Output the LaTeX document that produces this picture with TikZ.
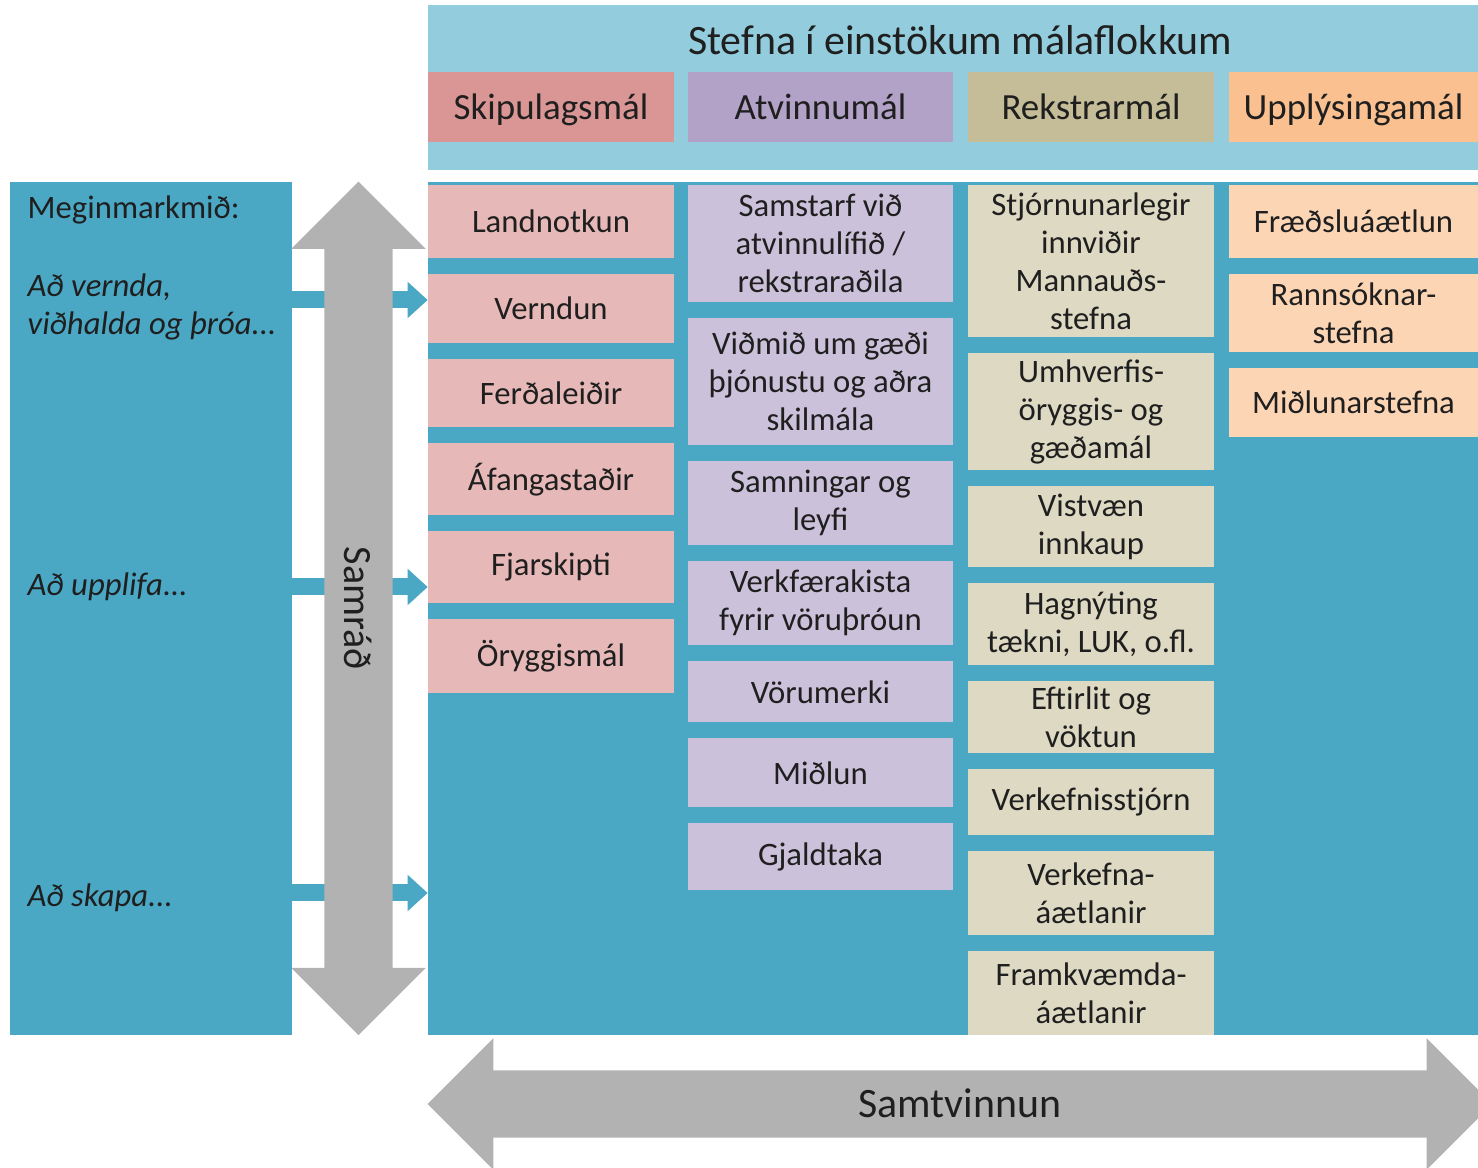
\documentclass[tikz,border=0pt]{standalone}
\usepackage{fontspec}
\setmainfont{Carlito}
\usetikzlibrary{positioning,shapes.arrows,arrows.meta}
\definecolor{mainblue}{HTML}{4AA8C5}
\definecolor{headblue}{HTML}{93CDDD}
\definecolor{pinkhead}{HTML}{DA9694}
\definecolor{pinkcell}{HTML}{E6B9B8}
\definecolor{lilachead}{HTML}{B3A2C7}
\definecolor{lilaccell}{HTML}{CCC1DA}
\definecolor{sandhead}{HTML}{C4BD97}
\definecolor{sandcell}{HTML}{DDD9C3}
\definecolor{peachhead}{HTML}{FAC090}
\definecolor{peachcell}{HTML}{FCD5B5}
\definecolor{arrowgray}{HTML}{B2B2B2}
\tikzset{panel/.style={fill=mainblue, inner sep=0pt, outer sep=0pt},
  headblock/.style={inner sep=0pt, outer sep=0pt, minimum height=0.7cm, text height=0.32cm, text depth=0.075cm, text=black!88, font=\fontsize{10.5}{12}\selectfont},
  block/.style={inner sep=0pt, outer sep=0pt, align=center, text=black!88, font=\fontsize{9.3}{10.8}\selectfont},
  pinkblock/.style={block, fill=pinkcell, minimum width=2.46cm},
  lilacblock/.style={block, fill=lilaccell, minimum width=2.65cm},
  sandblock/.style={block, fill=sandcell, minimum width=2.46cm},
  peachblock/.style={block, fill=peachcell, minimum width=2.49cm},
  goaltext/.style={anchor=west, align=left, inner sep=0pt, text=black!88, font=\fontsize{9.3}{10.8}\selectfont},
  goalarrow/.style={draw=mainblue, line width=0.17cm, -{Triangle[length=0.2cm,width=0.35cm]}},
  twoway/.style={double arrow, fill=arrowgray, inner xsep=0pt, inner ysep=0pt, outer sep=0pt, text=black!88}}

\begin{document}
\begin{tikzpicture}[x=0.01cm, y=-0.01cm, node distance=0.16cm]
    \useasboundingbox (0,0) rectangle (1478,1168);
    \clip (0,0) rectangle (1478,1168);

    % panels
    \node[panel, minimum width=2.82cm, minimum height=8.53cm]  (goals) at (151,608.5) {};
    \node[panel, minimum width=10.5cm, minimum height=8.53cm]  (body) at (953,608.5) {};
    \node[fill=headblue, inner sep=0pt, minimum width=10.5cm, minimum height=1.65cm] (band) at (953,87.5) {};
    \node[text=black!88, font=\fontsize{11.9}{14}\selectfont] (title) at (960,40) {Stefna í einstökum málaflokkum};

    \node[headblock, fill=pinkhead, minimum width=2.46cm]  (h1) at (551,107) {Skipulagsmál};
    \node[headblock, fill=lilachead, minimum width=2.65cm] (h2) at (820.5,107) {Atvinnumál};
    \node[headblock, fill=sandhead, minimum width=2.46cm]  (h3) at (1091,107) {Rekstrarmál};
    \node[headblock, fill=peachhead, minimum width=2.49cm] (h4) at (1353.5,107) {Upplýsingamál};

    % Skipulagsmál
    \node[pinkblock, minimum height=0.73cm, anchor=north] (lk) at (551,185) {Landnotkun};
    \node[pinkblock, minimum height=0.69cm, below=of lk]   (vd) {Verndun};
    \node[pinkblock, minimum height=0.68cm, below=of vd]   (fl) {Ferðaleiðir};
    \node[pinkblock, minimum height=0.72cm, below=of fl]   (af) {Áfangastaðir};
    \node[pinkblock, minimum height=0.72cm, below=of af]   (fj) {Fjarskipti};
    \node[pinkblock, minimum height=0.74cm, below=of fj]   (or) {Öryggismál};

    % Atvinnumál
    \node[lilacblock, minimum height=1.17cm, anchor=north] (sa) at (820.5,185) {Samstarf við\\atvinnulífið /\\rekstraraðila};
    \node[lilacblock, minimum height=1.27cm, below=of sa]  (vg) {Viðmið um gæði\\þjónustu og aðra\\skilmála};
    \node[lilacblock, minimum height=0.84cm, below=of vg]  (sl) {Samningar og\\leyfi};
    \node[lilacblock, minimum height=0.84cm, below=of sl]  (vk) {Verkfærakista\\fyrir vöruþróun};
    \node[lilacblock, minimum height=0.61cm, below=of vk]  (vm) {Vörumerki};
    \node[lilacblock, minimum height=0.69cm, below=of vm]  (ml) {Miðlun};
    \node[lilacblock, minimum height=0.67cm, below=of ml]  (gt) {Gjaldtaka};

    % Rekstrarmál
    \node[sandblock, minimum height=1.52cm, anchor=north] (st) at (1091,185) {Stjórnunarlegir\\innviðir\\Mannauðs-\\stefna};
    \node[sandblock, minimum height=1.17cm, below=of st]  (um) {Umhverfis-\\öryggis- og\\gæðamál};
    \node[sandblock, minimum height=0.81cm, below=of um]  (vi) {Vistvæn\\innkaup};
    \node[sandblock, minimum height=0.82cm, below=of vi]  (ha) {Hagnýting\\tækni, LUK, o.fl.};
    \node[sandblock, minimum height=0.72cm, below=of ha]  (ev) {Eftirlit og\\vöktun};
    \node[sandblock, minimum height=0.66cm, below=of ev]  (vs) {Verkefnisstjórn};
    \node[sandblock, minimum height=0.84cm, below=of vs]  (va) {Verkefna-\\áætlanir};
    \node[sandblock, minimum height=0.84cm, below=of va]  (fa) {Framkvæmda-\\áætlanir};

    % Upplýsingamál
    \node[peachblock, minimum height=0.73cm, anchor=north] (fr) at (1353.5,185) {Fræðsluáætlun};
    \node[peachblock, minimum height=0.78cm, below=of fr]  (rs) {Rannsóknar-\\stefna};
    \node[peachblock, minimum height=0.69cm, below=of rs]  (mi) {Miðlunarstefna};

    % markmid
    \node[goaltext] (mm) at (27,210) {Meginmarkmið:};
    \node[goaltext, font=\fontsize{9.3}{10.8}\selectfont\itshape] (g1) at (27,307) {Að vernda,\\viðhalda og þróa...};
    \node[goaltext, font=\fontsize{9.3}{10.8}\selectfont\itshape] (g2) at (27,587) {Að upplifa...};
    \node[goaltext, font=\fontsize{9.3}{10.8}\selectfont\itshape] (g3) at (27,898) {Að skapa...};

    \coordinate (a1) at (0,300);
    \coordinate (a2) at (0,587);
    \coordinate (a3) at (0,893);
    \draw[goalarrow] (goals.east |- a1) -- (body.west |- a1);
    \draw[goalarrow] (goals.east |- a2) -- (body.west |- a2);
    \draw[goalarrow] (goals.east |- a3) -- (body.west |- a3);

    % samrad og samtvinnun
    \node[twoway, minimum height=8.53cm, double arrow head extend=0.33cm, text height=0.47cm, text depth=0.2cm, rotate=-90, font=\fontsize{11.4}{13}\selectfont] (samrad) at (358.5,608.5) {Samráð};
    \node[twoway, minimum height=10.64cm, double arrow head extend=0.32cm, text height=0.47cm, text depth=0.19cm, font=\fontsize{11.9}{14}\selectfont] (samtv) at (960,1104) {Samtvinnun};
\end{tikzpicture}
\end{document}
